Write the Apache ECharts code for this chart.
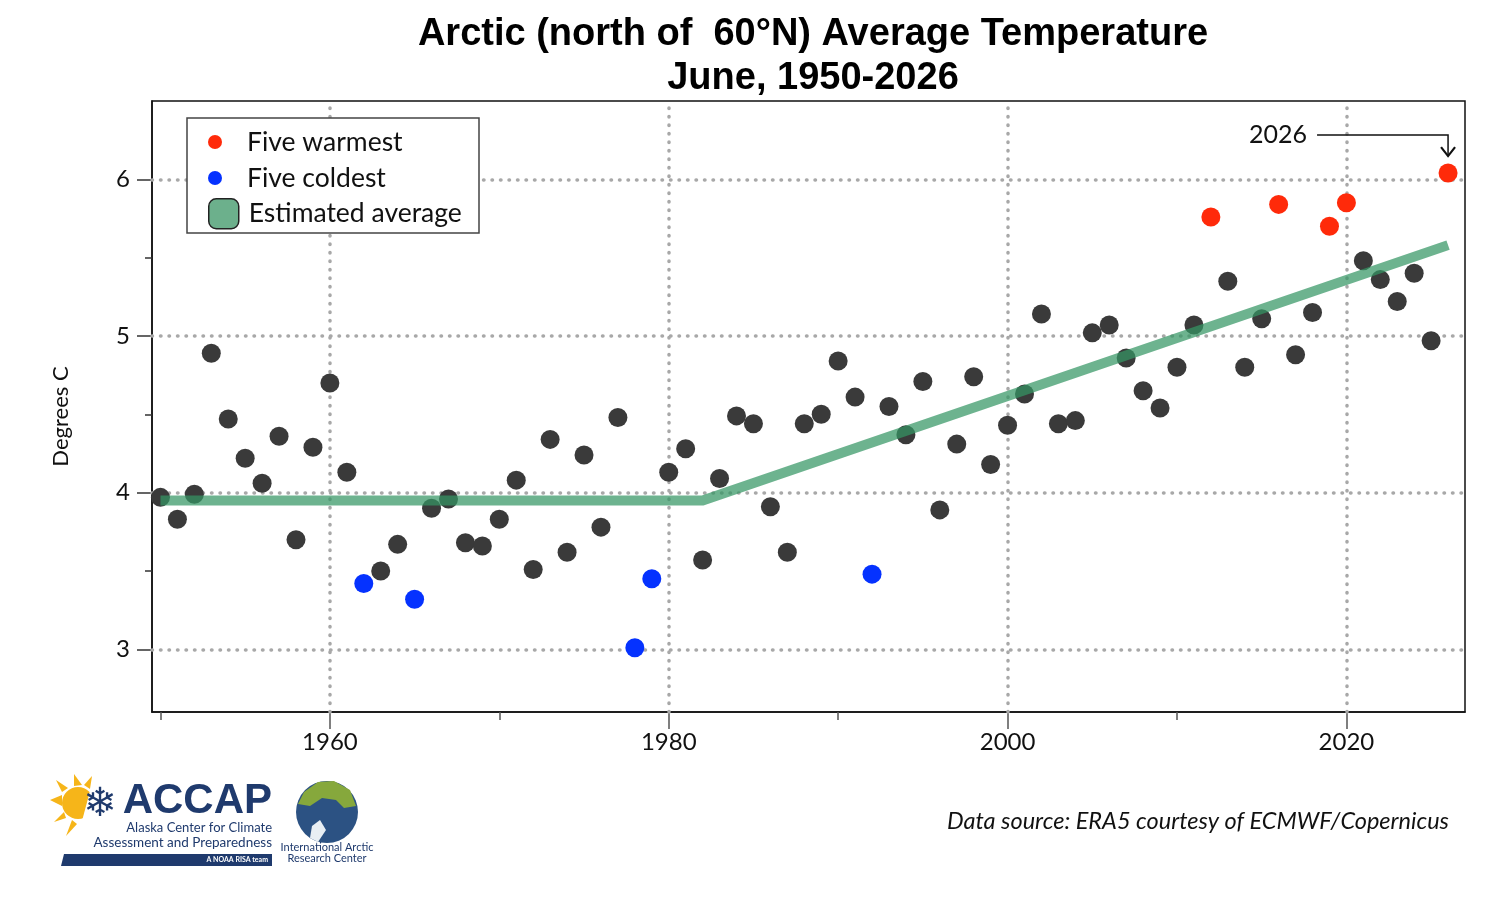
<!DOCTYPE html>
<html>
<head>
<meta charset="utf-8">
<title>Arctic June Average Temperature</title>
<script src="https://cdn.jsdelivr.net/npm/echarts@6/dist/echarts.min.js"></script>
<style>
    html, body { margin: 0; padding: 0; background: #fff; }
    #chart { width: 1500px; height: 900px; }
</style>
</head>
<body>
<div id="chart"></div>
<script>
// June mean temperature north of 60N
var years = [
    1950, 1951, 1952, 1953, 1954, 1955, 1956, 1957, 1958, 1959,
    1960, 1961, 1962, 1963, 1964, 1965, 1966, 1967, 1968, 1969,
    1970, 1971, 1972, 1973, 1974, 1975, 1976, 1977, 1978, 1979,
    1980, 1981, 1982, 1983, 1984, 1985, 1986, 1987, 1988, 1989,
    1990, 1991, 1992, 1993, 1994, 1995, 1996, 1997, 1998, 1999,
    2000, 2001, 2002, 2003, 2004, 2005, 2006, 2007, 2008, 2009,
    2010, 2011, 2012, 2013, 2014, 2015, 2016, 2017, 2018, 2019,
    2020, 2021, 2022, 2023, 2024, 2025, 2026
];
var temps = [
    3.97, 3.83, 3.99, 4.89, 4.47, 4.22, 4.06, 4.36, 3.70, 4.29,
    4.70, 4.13, 3.42, 3.50, 3.67, 3.32, 3.90, 3.96, 3.68, 3.66,
    3.83, 4.08, 3.51, 4.34, 3.62, 4.24, 3.78, 4.48, 3.01, 3.45,
    4.13, 4.28, 3.57, 4.09, 4.49, 4.44, 3.91, 3.62, 4.44, 4.50,
    4.84, 4.61, 3.48, 4.55, 4.37, 4.71, 3.89, 4.31, 4.74, 4.18,
    4.43, 4.63, 5.14, 4.44, 4.46, 5.02, 5.07, 4.86, 4.65, 4.54,
    4.80, 5.07, 5.76, 5.35, 4.80, 5.11, 5.84, 4.88, 5.15, 5.70,
    5.85, 5.48, 5.36, 5.22, 5.40, 4.97, 6.04
];
var warmestYears = [2012, 2016, 2019, 2020, 2026];
var coldestYears = [1962, 1965, 1978, 1979, 1992];

// estimated average: flat, then a linear rise (vertices)
var trendYears = [1950, 1982, 2026];
var trendValues = [3.95, 3.95, 5.58];

var xLabelYears = [1960, 1980, 2000, 2020];
var xMinorYears = [1950, 1970, 1990, 2010];
var yLabelValues = [3, 4, 5, 6];
var yMinorValues = [3.5, 4.5, 5.5];

var latestYear = 2026;

var myChart = echarts.init(document.getElementById('chart'));

var FONT = 'Lato, "Open Sans", sans-serif';
var NAVY = '#1f3a6d';

var otherPts = [], warmPts = [], coldPts = [];
for (var i = 0; i < years.length; i++) {
    var p = [years[i], temps[i]];
    if (warmestYears.indexOf(years[i]) >= 0) warmPts.push(p);
    else if (coldestYears.indexOf(years[i]) >= 0) coldPts.push(p);
    else otherPts.push(p);
}
var trendPts = trendYears.map(function (y, k) { return [y, trendValues[k]]; });

var gridLines = xLabelYears.map(function (v) { return {xAxis: v}; })
    .concat(yLabelValues.map(function (v) { return {yAxis: v}; }));

var option = {
    animation: false,
    backgroundColor: '#fff',
    title: {
        text: 'Arctic (north of  60\u00b0N) Average Temperature\nJune, 1950-2026',
        left: 808,
        top: 8,
        textAlign: 'center',
        textStyle: {
            fontFamily: '"Liberation Sans", Arial, sans-serif',
            fontWeight: 'bold',
            fontSize: 38,
            lineHeight: 44,
            color: '#000'
        }
    },
    grid: {
        left: 152, right: 35, top: 101, bottom: 188,
        show: true,
        borderColor: '#111',
        borderWidth: 1.5,
        backgroundColor: 'transparent'
    },
    legend: [
        {
            data: ['Five warmest', 'Five coldest'],
            orient: 'vertical',
            left: 203, top: 123,
            itemWidth: 30, itemHeight: 14, itemGap: 8,
            icon: 'circle',
            selectedMode: false,
            z: 20,
            textStyle: {fontFamily: FONT, fontSize: 26.5, lineHeight: 28, color: '#111', padding: [0, 0, 0, 12]}
        },
        {
            data: [{
                name: 'Estimated average',
                icon: 'roundRect',
                itemStyle: {color: '#6cb08c', borderColor: '#222', borderWidth: 1.5}
            }],
            orient: 'vertical',
            left: 203, top: 193,
            itemWidth: 30, itemHeight: 30,
            selectedMode: false,
            z: 20,
            textStyle: {fontFamily: FONT, fontSize: 26.5, lineHeight: 30, color: '#111', padding: [0, 0, 0, 5]}
        }
    ],
    xAxis: [
        {
            type: 'value', min: 1949.5, max: 2027,
            axisLine: {show: true, lineStyle: {color: '#111', width: 1.5}},
            axisTick: {show: true, customValues: xLabelYears, length: 17, lineStyle: {color: '#555', width: 1.5}},
            axisLabel: {
                customValues: xLabelYears, margin: 18, fontFamily: FONT, fontSize: 24, color: '#111',
                formatter: function (v) { return String(v); }
            },
            splitLine: {show: false}
        },
        {
            type: 'value', min: 1949.5, max: 2027, position: 'bottom',
            axisLine: {show: false},
            axisTick: {show: true, customValues: xMinorYears, length: 8, lineStyle: {color: '#555', width: 1.5}},
            axisLabel: {show: false},
            splitLine: {show: false}
        }
    ],
    yAxis: [
        {
            type: 'value', min: 2.6, max: 6.5,
            name: 'Degrees C',
            nameLocation: 'middle',
            nameGap: 80,
            nameTextStyle: {fontFamily: FONT, fontSize: 22, color: '#111', padding: [0, 20, 0, 0]},
            axisLine: {show: true, lineStyle: {color: '#111', width: 1.5}},
            axisTick: {show: true, customValues: yLabelValues, length: 15, lineStyle: {color: '#333', width: 1.5}},
            axisLabel: {customValues: yLabelValues, margin: 22, fontFamily: FONT, fontSize: 24, color: '#111'},
            splitLine: {show: false}
        },
        {
            type: 'value', min: 2.6, max: 6.5, position: 'left',
            axisLine: {show: false},
            axisTick: {show: true, customValues: yMinorValues, length: 7, lineStyle: {color: '#333', width: 1.5}},
            axisLabel: {show: false},
            splitLine: {show: false}
        }
    ],
    series: [
        {
            name: 'Other',
            type: 'scatter',
            data: otherPts,
            symbolSize: 19,
            itemStyle: {color: '#3a3a3a', opacity: 1},
            z: 2,
            markLine: {
                silent: true,
                z: 1,
                symbol: ['none', 'none'],
                label: {show: false},
                lineStyle: {color: '#a8a8a8', width: 3.5, type: [0.5, 8], cap: 'round'},
                data: gridLines
            }
        },
        {
            name: 'Five warmest',
            type: 'scatter',
            data: warmPts,
            symbolSize: 19,
            itemStyle: {color: '#ff2a0a', opacity: 1},
            z: 2
        },
        {
            name: 'Five coldest',
            type: 'scatter',
            data: coldPts,
            symbolSize: 19,
            itemStyle: {color: '#0532ff', opacity: 1},
            z: 2
        },
        {
            name: 'Estimated average',
            type: 'line',
            data: trendPts,
            symbol: 'none',
            z: 3,
            itemStyle: {color: '#6cb08c'},
            lineStyle: {color: 'rgba(52,150,100,0.72)', width: 10, cap: 'butt', join: 'round'}
        }
    ]
};
myChart.setOption(option);

// annotations placed from the chart's own scales
var tip = myChart.convertToPixel({seriesIndex: 1}, [latestYear, temps[years.indexOf(latestYear)]]);

var graphics = [
    // legend frame
    {type: 'rect', z: 10, shape: {x: 187, y: 118, width: 292, height: 115},
        style: {fill: '#fff', stroke: '#444', lineWidth: 1.5}},
    // 2026 callout
    {type: 'text', z: 10, x: tip[0] - 141, y: tip[1] - 38,
        style: {text: String(latestYear), fontFamily: FONT, fontSize: 25, fill: '#111', align: 'right', verticalAlign: 'middle'}},
    {type: 'polyline', z: 10, shape: {points: [[tip[0] - 131, tip[1] - 38], [tip[0], tip[1] - 38], [tip[0], tip[1] - 17]]},
        style: {stroke: '#111', lineWidth: 1.5, fill: null}},
    {type: 'polyline', z: 10, shape: {points: [[tip[0] - 7, tip[1] - 26], [tip[0], tip[1] - 17], [tip[0] + 7, tip[1] - 26]]},
        style: {stroke: '#111', lineWidth: 2.2, fill: null}},
    // data source
    {type: 'text', x: 1449, y: 821,
        style: {text: 'Data source: ERA5 courtesy of ECMWF/Copernicus', fontFamily: FONT, fontStyle: 'italic',
            fontSize: 23.5, fill: '#111', align: 'right', verticalAlign: 'middle'}},

    // ACCAP logo
    {type: 'circle', shape: {cx: 78, cy: 803, r: 16}, style: {fill: '#f6b519'}},
    {type: 'polygon', shape: {points: [[50, 800], [62, 795], [62, 806]]}, style: {fill: '#f6b519'}},
    {type: 'polygon', shape: {points: [[56, 780], [68, 788], [62, 792]]}, style: {fill: '#f6b519'}},
    {type: 'polygon', shape: {points: [[74, 774], [82, 785], [74, 786]]}, style: {fill: '#f6b519'}},
    {type: 'polygon', shape: {points: [[92, 776], [90, 789], [84, 785]]}, style: {fill: '#f6b519'}},
    {type: 'polygon', shape: {points: [[54, 822], [64, 812], [66, 818]]}, style: {fill: '#f6b519'}},
    {type: 'polygon', shape: {points: [[66, 836], [72, 820], [77, 824]]}, style: {fill: '#f6b519'}},
    {type: 'polygon', shape: {points: [[94, 776], [78, 836], [118, 836], [118, 776]]}, style: {fill: '#fff'}},
    {type: 'text', x: 100, y: 806,
        style: {text: '\u2744', fontFamily: '"DejaVu Sans", sans-serif', fontSize: 40, fill: NAVY, align: 'center', verticalAlign: 'middle'}},
    {type: 'text', x: 272, y: 801,
        style: {text: 'ACCAP', fontFamily: '"Liberation Sans", Arial, sans-serif', fontWeight: 900, fontSize: 42,
            fill: NAVY, align: 'right', verticalAlign: 'middle'}},
    {type: 'text', x: 272, y: 828,
        style: {text: 'Alaska Center for Climate', fontFamily: FONT, fontSize: 13, fill: NAVY, align: 'right', verticalAlign: 'middle'}},
    {type: 'text', x: 272, y: 843,
        style: {text: 'Assessment and Preparedness', fontFamily: FONT, fontSize: 13.5, fill: NAVY, align: 'right', verticalAlign: 'middle'}},
    {type: 'polygon', shape: {points: [[64, 854], [272, 854], [272, 866], [61, 866]]}, style: {fill: NAVY}},
    {type: 'text', x: 268, y: 860,
        style: {text: 'A NOAA RISA team', fontFamily: FONT, fontWeight: 'bold', fontSize: 7, fill: '#fff', align: 'right', verticalAlign: 'middle'}},

    // IARC logo
    {type: 'circle', shape: {cx: 327, cy: 812, r: 31}, style: {fill: '#2c5283'}},
    {type: 'polygon', shape: {points: [[304, 792], [318, 782], [334, 781], [350, 790], [356, 806], [344, 808], [336, 800], [322, 798], [310, 806], [298, 804]]},
        style: {fill: '#86a83c'}},
    {type: 'polygon', shape: {points: [[312, 826], [320, 820], [326, 830], [318, 842], [310, 838]]}, style: {fill: '#e8eef3'}},
    {type: 'text', x: 327, y: 847,
        style: {text: 'International Arctic', fontFamily: FONT, fontSize: 11, fill: NAVY, align: 'center', verticalAlign: 'middle'}},
    {type: 'text', x: 327, y: 858,
        style: {text: 'Research Center', fontFamily: FONT, fontSize: 11, fill: NAVY, align: 'center', verticalAlign: 'middle'}}
];
myChart.setOption({graphic: graphics});
</script>
</body>
</html>
